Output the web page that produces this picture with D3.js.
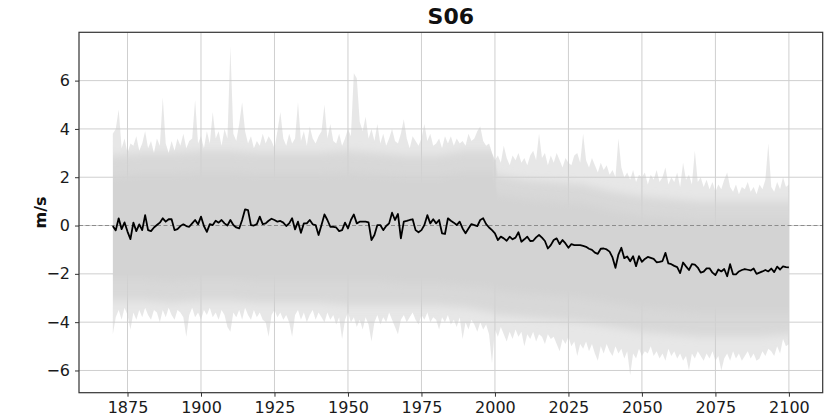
<!DOCTYPE html>
<html>
<head>
<meta charset="utf-8">
<script src="https://cdn.jsdelivr.net/npm/d3@7"></script>
<style>
  html, body { margin: 0; padding: 0; background: #ffffff; }
  svg { display: block; }
  .tick text { font-family: "DejaVu Sans", sans-serif; font-size: 16px; fill: #1a1a1a; }
</style>
</head>
<body>
<svg id="chart" width="831" height="419"></svg>
<script>
// Annual series, 1870–2100
const firstYear = 1870;
const lastYear = 2100;

// Ensemble mean (m/s)
const ensembleMean = [
  -0.02, -0.2, 0.3, -0.15, 0.13, -0.25, -0.56, 0.12, -0.23, 0.05,
  -0.19, 0.43, -0.19, -0.23, -0.08, 0.02, 0.12, 0.3, 0.16, 0.26,
  0.26, -0.19, -0.15, -0.02, 0.05, -0.02, -0.05, 0.09, 0.23, 0.05,
  0.37, -0.02, -0.26, 0.06, 0.02, 0.2, 0.12, 0.23, 0.09, 0.0,
  0.23, 0.02, -0.08, -0.12, 0.23, 0.67, 0.64, 0.02, 0.0, 0.06,
  0.37, 0.06, 0.09, 0.2, 0.28, 0.23, 0.16, 0.19, 0.12, -0.02,
  0.09, 0.3, -0.16, 0.16, -0.3, 0.09, 0.09, 0.23, 0.05, 0.02,
  -0.39, 0.02, 0.46, 0.23, -0.05, -0.05, -0.08, -0.23, -0.19, 0.12,
  -0.12, 0.23, 0.46, 0.09, 0.16, 0.16, 0.16, 0.13, -0.6, -0.39,
  0.02, 0.02, -0.19, -0.02, 0.09, 0.53, 0.23, 0.48, -0.53, 0.16,
  0.19, 0.23, 0.26, -0.19, -0.28, -0.19, 0.02, 0.43, 0.09, 0.26,
  0.09, 0.23, -0.32, -0.35, 0.3, 0.2, 0.12, 0.02, 0.16, -0.12,
  -0.32, -0.12, 0.06, 0.02, -0.02, 0.23, 0.3, 0.06, -0.08, -0.19,
  -0.32, -0.6, -0.46, -0.53, -0.63, -0.46, -0.57, -0.5, -0.28, -0.67,
  -0.57, -0.46, -0.64, -0.63, -0.49, -0.39, -0.5, -0.64, -0.95, -0.81,
  -0.6, -0.53, -0.77, -0.6, -0.74, -0.92, -0.77, -0.81, -0.81, -0.81,
  -0.84, -0.88, -0.96, -1.01, -1.12, -1.17, -0.96, -0.95, -0.99, -1.08,
  -1.32, -1.75, -1.2, -0.92, -1.35, -1.28, -1.48, -1.27, -1.68, -1.27,
  -1.5, -1.38, -1.3, -1.34, -1.38, -1.52, -1.5, -1.47, -1.13, -1.57,
  -1.6, -1.67, -1.72, -1.97, -1.53, -1.69, -1.84, -1.6, -1.62, -1.74,
  -1.95, -1.91, -1.77, -1.77, -1.95, -2.05, -1.82, -1.9, -1.8, -2.1,
  -1.6, -2.02, -2.02, -1.9, -1.84, -1.8, -1.83, -1.86, -1.78, -2.0,
  -1.95, -1.9, -1.84, -1.9, -1.78, -1.93, -1.7, -1.82, -1.69, -1.72,
  -1.73
];

// Highest ensemble member in each year (m/s)
const memberMax = [
  3.8, 4.0, 4.8, 3.2, 3.6, 3.0, 3.4, 3.3, 3.7, 3.1,
  3.4, 3.9, 3.2, 3.5, 3.0, 3.6, 3.3, 5.3, 3.4, 3.0,
  3.5, 3.1, 3.6, 3.3, 3.8, 3.2, 3.5, 3.6, 5.2, 3.4,
  3.7, 3.2, 3.9, 3.4, 4.7, 3.6, 3.9, 3.3, 4.0, 3.6,
  7.4, 3.8, 3.5, 4.2, 5.1, 3.9, 3.4, 3.7, 3.2, 3.5,
  3.3, 3.8, 3.4, 3.7, 3.5, 3.2, 3.9, 4.7, 3.6, 3.3,
  3.8, 3.4, 3.6, 5.1, 3.5, 3.9, 3.3, 4.1, 3.6, 3.4,
  3.7, 3.9, 5.0, 3.6, 4.2, 3.5, 3.4, 3.8, 3.3, 3.6,
  4.0, 3.7, 6.3, 6.1, 4.3, 3.9, 4.5, 3.6, 4.0, 3.5,
  4.2, 3.4, 3.8, 3.3, 3.6, 4.0, 3.5, 3.4, 3.8, 4.4,
  3.6, 3.2, 3.7, 3.5, 3.3, 3.6, 4.2, 3.5, 3.8, 3.3,
  3.4, 3.6, 3.2, 3.7, 3.4, 3.7, 3.3, 3.6, 3.4, 3.5,
  3.3, 3.8, 3.5, 3.6, 3.9, 4.1, 3.5, 3.3, 3.4, 3.0,
  2.7, 2.9, 2.6, 3.3, 2.8, 2.5, 2.9, 2.7, 3.0, 2.6,
  2.8, 2.5, 2.9, 3.1, 2.7, 3.8, 2.8, 3.0, 2.5, 2.9,
  2.6, 3.0, 2.7, 2.4, 2.8, 2.6, 2.5, 2.9, 3.0, 2.6,
  3.8, 2.7, 2.4, 2.8, 2.5, 2.2, 2.6, 2.3, 2.5, 2.1,
  2.3, 2.0, 3.6, 2.4, 2.0, 2.2, 1.9, 2.3, 1.8, 2.1,
  2.0, 2.2, 1.7, 2.1, 1.9, 2.3, 1.8, 2.0, 2.4, 1.7,
  2.0, 1.8, 2.2, 1.6, 2.6, 1.9, 2.1, 1.7, 3.1, 1.8,
  2.0, 1.6, 1.9, 1.5, 1.8, 1.4, 1.7, 1.5, 1.9, 2.2,
  1.6, 1.4, 1.7, 1.3, 1.6, 1.5, 1.8, 1.4, 1.6, 1.3,
  1.7, 1.5, 1.9, 3.4, 1.6, 1.4, 1.8, 1.5, 2.0, 1.6,
  1.7
];

// Lowest ensemble member in each year (m/s)
const memberMin = [
  -4.5, -3.8, -3.5, -3.9, -3.4, -3.7, -4.3, -3.6, -3.9, -3.5,
  -3.8, -3.4, -3.7, -3.9, -3.5, -3.6, -4.0, -3.5, -3.8, -3.4,
  -3.7, -3.9, -3.5, -3.6, -3.8, -4.6, -3.7, -3.4, -3.8, -3.6,
  -3.9, -3.5, -3.7, -3.4, -3.8, -3.6, -3.9, -3.5, -3.7, -4.2,
  -4.4, -3.6, -3.8, -3.5, -3.9, -3.4, -3.7, -3.9, -3.5, -3.8,
  -3.6, -3.9, -4.0, -4.6, -3.7, -3.5, -3.8, -3.6, -3.9, -3.7,
  -4.0, -4.6, -3.7, -3.5, -3.9, -3.6, -4.0, -3.7, -3.5, -3.9,
  -3.6, -3.8, -4.0, -3.6, -3.9, -3.7, -4.1, -3.8, -4.7, -3.9,
  -3.6, -4.0, -3.8, -4.2, -3.9, -4.3, -3.8, -4.1, -4.8, -4.0,
  -3.7, -4.1, -3.8, -4.0, -3.6, -3.9, -4.2, -4.5, -3.9, -3.7,
  -4.0, -3.8, -3.6, -3.9, -4.1, -3.7, -3.9, -3.6, -4.0, -3.8,
  -3.9, -4.3, -3.8, -4.0, -3.7, -4.1, -3.9, -4.2, -3.8, -4.7,
  -4.0, -4.3, -3.9, -4.1, -4.4, -4.0, -4.3, -4.1, -4.5, -5.7,
  -4.3, -4.6, -4.2, -4.5, -4.8, -4.4, -4.7, -4.3, -4.6, -4.4,
  -5.0, -4.5, -4.7, -4.4, -4.8, -4.5, -4.6, -4.9, -4.5, -4.7,
  -4.6, -4.9, -5.2, -4.7, -4.9, -4.6, -5.0, -4.8, -5.4, -4.9,
  -5.1, -4.8, -5.2, -4.9, -5.3, -5.6, -5.0, -5.3, -4.9, -5.2,
  -5.4, -5.0, -5.3, -5.1, -5.5, -5.2, -6.2, -5.3, -5.5, -5.1,
  -5.4, -5.2, -5.3, -5.0, -5.4, -5.2, -5.5, -5.3, -5.6, -5.1,
  -5.4, -5.2, -5.5, -5.3, -5.6, -5.4, -6.0, -5.3, -5.5, -5.2,
  -5.4, -5.6, -5.3, -5.5, -5.2, -5.6, -5.4, -6.0, -5.5, -5.3,
  -5.6, -5.2, -5.5, -5.3, -5.6, -5.4, -5.2, -5.5, -5.3, -5.6,
  -5.5, -5.2, -5.4, -5.1, -5.2, -5.4, -5.0, -5.3, -4.7, -5.0,
  -4.9
];

// Where most members lie (inner and outer bands of the spread)
const bandYears = [1870, 1880, 1890, 1900, 1910, 1920, 1930, 1940, 1950, 1960, 1970, 1980, 1990, 1999, 2001, 2010, 2020, 2030, 2040, 2050, 2060, 2070, 2080, 2090, 2100];
const innerHigh = [2.0, 2.1, 2.1, 2.2, 2.2, 2.1, 2.1, 2.1, 2.2, 2.1, 2.0, 2.0, 2.2, 2.2, 1.3, 1.1, 1.0, 0.9, 0.6, 0.4, 0.3, 0.2, 0.2, 0.2, 0.2];
const innerLow  = [-2.2, -2.2, -2.3, -2.2, -2.2, -2.3, -2.3, -2.3, -2.3, -2.3, -2.4, -2.4, -2.5, -2.6, -2.7, -2.8, -2.9, -3.0, -3.2, -3.4, -3.5, -3.6, -3.6, -3.6, -3.6];
const outerHigh = [2.9, 3.0, 3.0, 3.1, 3.1, 3.0, 3.0, 3.0, 3.1, 3.0, 2.9, 2.9, 3.1, 3.1, 2.1, 1.9, 1.8, 1.7, 1.4, 1.2, 1.1, 1.0, 1.0, 1.0, 1.0];
const outerLow  = [-3.1, -3.1, -3.2, -3.1, -3.1, -3.2, -3.2, -3.2, -3.3, -3.3, -3.3, -3.3, -3.4, -3.6, -3.7, -3.8, -3.9, -4.0, -4.2, -4.4, -4.5, -4.6, -4.6, -4.6, -4.5];

const xTicks = [1875, 1900, 1925, 1950, 1975, 2000, 2025, 2050, 2075, 2100];
const yTicks = [-6, -4, -2, 0, 2, 4, 6];
const chartTitle = "S06";
const yAxisLabel = "m/s";

// ---------------------------------------------------------------
const svg = d3.select("#chart");
const W = 831, H = 419;
const plot = { left: 79, right: 822.7, top: 32.3, bottom: 392.7 };

svg.append("rect").attr("width", W).attr("height", H).attr("fill", "#ffffff");

// soft vertical fade for the density bands of the spread
const defs = svg.append("defs");
defs.append("filter").attr("id", "vfade")
  .attr("x", "-2%").attr("y", "-20%").attr("width", "104%").attr("height", "140%")
  .append("feGaussianBlur").attr("stdDeviation", "0 4");

const x = d3.scaleLinear().domain([1858.5, 2111.5]).range([plot.left, plot.right]);
const y = d3.scaleLinear().domain([-6.92, 8.0]).range([plot.bottom, plot.top]);

const years = d3.range(firstYear, lastYear + 1);
const annual = years.map((yr, i) => ({ yr, mean: ensembleMean[i], hi: memberMax[i], lo: memberMin[i] }));
const bands = bandYears.map((yr, i) => ({ yr, ih: innerHigh[i], il: innerLow[i], oh: outerHigh[i], ol: outerLow[i] }));

// grid
const grid = svg.append("g");
grid.selectAll("line.gx").data(xTicks).join("line")
  .attr("x1", d => x(d)).attr("x2", d => x(d))
  .attr("y1", plot.top).attr("y2", plot.bottom)
  .attr("stroke", "#cfcfcf").attr("stroke-width", 1);
grid.selectAll("line.gy").data(yTicks).join("line")
  .attr("x1", plot.left).attr("x2", plot.right)
  .attr("y1", d => y(d)).attr("y2", d => y(d))
  .attr("stroke", "#cfcfcf").attr("stroke-width", 1);

// ensemble spread
const area = (hiKey, loKey) => d3.area().x(d => x(d.yr)).y0(d => y(d[loKey])).y1(d => y(d[hiKey])).curve(d3.curveLinear);

// full member range, year by year
svg.append("path").attr("d", area("hi", "lo")(annual))
  .attr("fill", "#cdcdcd").attr("fill-opacity", 0.47);

// denser bands, kept inside the member range
defs.append("clipPath").attr("id", "rangeclip")
  .append("path").attr("d", area("hi", "lo")(annual));
const dense = svg.append("g").attr("clip-path", "url(#rangeclip)");
dense.append("path").attr("d", area("oh", "ol")(bands))
  .attr("fill", "#d1d1d1").attr("fill-opacity", 0.7).attr("filter", "url(#vfade)");
dense.append("path").attr("d", area("ih", "il")(bands))
  .attr("fill", "#d3d3d3").attr("filter", "url(#vfade)");

// zero reference
svg.append("line")
  .attr("x1", plot.left).attr("x2", plot.right)
  .attr("y1", y(0)).attr("y2", y(0))
  .attr("stroke", "#8c8c8c").attr("stroke-width", 1.1)
  .attr("stroke-dasharray", "4,2.5");

// ensemble mean
svg.append("path").datum(annual)
  .attr("d", d3.line().x(d => x(d.yr)).y(d => y(d.mean)))
  .attr("fill", "none").attr("stroke", "#000000").attr("stroke-width", 1.8)
  .attr("stroke-linejoin", "round");

// axes
const xAxis = svg.append("g").attr("transform", `translate(0,${plot.bottom})`)
  .call(d3.axisBottom(x).tickValues(xTicks).tickFormat(d3.format("d")).tickSize(4).tickPadding(5));
const yAxis = svg.append("g").attr("transform", `translate(${plot.left},0)`)
  .call(d3.axisLeft(y).tickValues(yTicks).tickSize(4).tickPadding(5));
[xAxis, yAxis].forEach(g => {
  g.select(".domain").remove();
  g.selectAll(".tick line").attr("stroke", "#333").attr("stroke-width", 1);
});

// frame
svg.append("rect")
  .attr("x", plot.left).attr("y", plot.top)
  .attr("width", plot.right - plot.left).attr("height", plot.bottom - plot.top)
  .attr("fill", "none").attr("stroke", "#333").attr("stroke-width", 1.2);

// title and axis label
svg.append("text")
  .attr("x", (plot.left + plot.right) / 2).attr("y", 24)
  .attr("text-anchor", "middle")
  .attr("font-family", "DejaVu Sans, sans-serif").attr("font-weight", "bold").attr("font-size", 22)
  .attr("fill", "#111")
  .text(chartTitle);

svg.append("text")
  .attr("transform", `translate(46,${(plot.top + plot.bottom) / 2}) rotate(-90)`)
  .attr("text-anchor", "middle")
  .attr("font-family", "DejaVu Sans, sans-serif").attr("font-weight", "bold").attr("font-size", 16)
  .attr("fill", "#111")
  .text(yAxisLabel);
</script>
</body>
</html>
